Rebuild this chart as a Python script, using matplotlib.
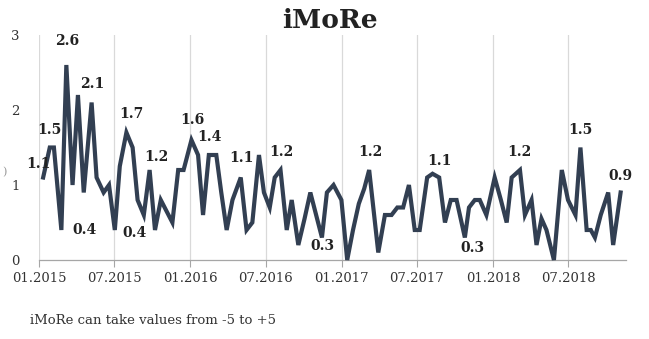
import matplotlib
matplotlib.use("Agg")
import matplotlib.pyplot as plt
import matplotlib.dates as mdates
import pandas as pd

dates = [
    "2015-01-11", "2015-01-27", "2015-02-06", "2015-02-24", "2015-03-08", "2015-03-23",
    "2015-04-05", "2015-04-19", "2015-05-08", "2015-05-20", "2015-06-06", "2015-06-19",
    "2015-07-03", "2015-07-15", "2015-07-31", "2015-08-15", "2015-08-27", "2015-09-11",
    "2015-09-25", "2015-10-08", "2015-10-22", "2015-11-05", "2015-11-19", "2015-12-03",
    "2015-12-16", "2016-01-04", "2016-01-20", "2016-02-01", "2016-02-15", "2016-03-04",
    "2016-03-16", "2016-03-29", "2016-04-12", "2016-05-02", "2016-05-16", "2016-05-30",
    "2016-06-15", "2016-06-27", "2016-07-11", "2016-07-23", "2016-08-06", "2016-08-21",
    "2016-09-02", "2016-09-18", "2016-10-03", "2016-10-17", "2016-10-31", "2016-11-14",
    "2016-11-26", "2016-12-12", "2016-12-31", "2017-01-14", "2017-01-28", "2017-02-11",
    "2017-02-24", "2017-03-08", "2017-03-30", "2017-04-15", "2017-05-01", "2017-05-15",
    "2017-05-29", "2017-06-12", "2017-06-26", "2017-07-08", "2017-07-26", "2017-08-08",
    "2017-08-24", "2017-09-07", "2017-09-21", "2017-10-05", "2017-10-25", "2017-11-04",
    "2017-11-18", "2017-11-30", "2017-12-16", "2018-01-05", "2018-01-20", "2018-02-03",
    "2018-02-15", "2018-03-07", "2018-03-19", "2018-04-04", "2018-04-16", "2018-04-28",
    "2018-05-10", "2018-05-28", "2018-06-16", "2018-07-01", "2018-07-19", "2018-07-31",
    "2018-08-15", "2018-08-25", "2018-09-04", "2018-09-18", "2018-10-06", "2018-10-18",
    "2018-11-05",
]

values = [
    1.1, 1.5, 1.5, 0.4, 2.6, 1.0, 2.2, 0.9, 2.1, 1.1, 0.9, 1.0,
    0.4, 1.25, 1.7, 1.5, 0.8, 0.6, 1.2, 0.4, 0.8, 0.65, 0.5, 1.2,
    1.2, 1.6, 1.4, 0.6, 1.4, 1.4, 0.9, 0.4, 0.8, 1.1, 0.4, 0.5,
    1.4, 0.9, 0.7, 1.1, 1.2, 0.4, 0.8, 0.2, 0.55, 0.9, 0.6, 0.3,
    0.9, 1.0, 0.8, 0.0, 0.4, 0.75, 0.95, 1.2, 0.1, 0.6, 0.6, 0.7,
    0.7, 1.0, 0.4, 0.4, 1.1, 1.15, 1.1, 0.5, 0.8, 0.8, 0.3, 0.7,
    0.8, 0.8, 0.6, 1.1, 0.8, 0.5, 1.1, 1.2, 0.6, 0.8, 0.2, 0.55,
    0.4, 0.0, 1.2, 0.8, 0.6, 1.5, 0.4, 0.4, 0.3, 0.6, 0.9, 0.2,
    0.9,
]

# data labels: (point index, label text)
label_idx = [0, 1, 4, 3, 8, 12, 14, 18, 25, 26, 33, 40, 47, 55, 65, 70, 79, 89, 96]
label_txt = ["1.1", "1.5", "2.6", "0.4", "2.1", "0.4", "1.7", "1.2", "1.6", "1.4",
             "1.1", "1.2", "0.3", "1.2", "1.1", "0.3", "1.2", "1.5", "0.9"]
# label offsets in pixels (dx, dy)
label_off = [(-5, 14), (0, 17), (1, 24), (23, 0), (1, 19), (20, -3), (5, 18), (7, 13),
             (1, 20), (11, 18), (1, 19), (1, 18), (1, -8), (1, 18), (7, 13), (8, -10),
             (-1, 18), (0, 17), (0, 17)]

title = "iMoRe"
note = "iMoRe can take values from -5 to +5"
y_ticks = [0, 1, 2, 3]

LINE = "#323F52"
SERIF = ["DejaVu Serif"]

x = pd.to_datetime(dates)

fig = plt.figure(figsize=(6.49, 3.39), dpi=100)
ax = fig.add_axes([39 / 649, 1 - 260 / 339, (626 - 39) / 649, (260 - 35) / 339])

ax.plot(x, values, color=LINE, lw=3.0, solid_joinstyle="miter", zorder=3, clip_on=False)

for i, t, (dx, dy) in zip(label_idx, label_txt, label_off):
    ax.annotate(t, (x[i], values[i]), xytext=(dx, dy), textcoords="offset pixels",
                ha="center", va="center", fontsize=10, fontweight="bold",
                family=SERIF, color="#222222", zorder=4)

ax.set_ylim(0, 3)
ax.set_yticks(y_ticks)
ax.set_yticklabels([str(v) for v in y_ticks], family=SERIF, fontsize=9.5, color="#333333")
ax.set_xlim(pd.Timestamp("2015-01-01"), pd.Timestamp("2018-11-18"))
ax.xaxis.set_major_locator(mdates.MonthLocator(bymonth=[1, 7]))
ax.xaxis.set_major_formatter(mdates.DateFormatter("%m.%Y"))
for lab in ax.get_xticklabels():
    lab.set_family(SERIF)
    lab.set_fontsize(9.5)
    lab.set_color("#333333")

ax.grid(axis="x", color="#D9D9D9", lw=0.9)
ax.grid(axis="y", visible=False)
ax.set_axisbelow(True)
for s in ["top", "right", "left"]:
    ax.spines[s].set_visible(False)
ax.spines["bottom"].set_color("#A6A6A6")
ax.spines["bottom"].set_linewidth(0.9)
ax.tick_params(axis="x", direction="out", length=5, color="#A6A6A6", pad=4)
ax.tick_params(axis="y", length=0, pad=14)

fig.text(330 / 649, 1 - 20 / 339, title, ha="center", va="center",
         fontsize=19, fontweight="bold", family=SERIF, color="#222222")
fig.text(30 / 649, 1 - 320 / 339, note, ha="left", va="center",
         fontsize=9.5, family=SERIF, color="#333333")
fig.text(2 / 649, 1 - 172 / 339, ")", ha="left", va="center",
         fontsize=8, family=SERIF, color="#999999")

fig.savefig("out.png", dpi=100)
